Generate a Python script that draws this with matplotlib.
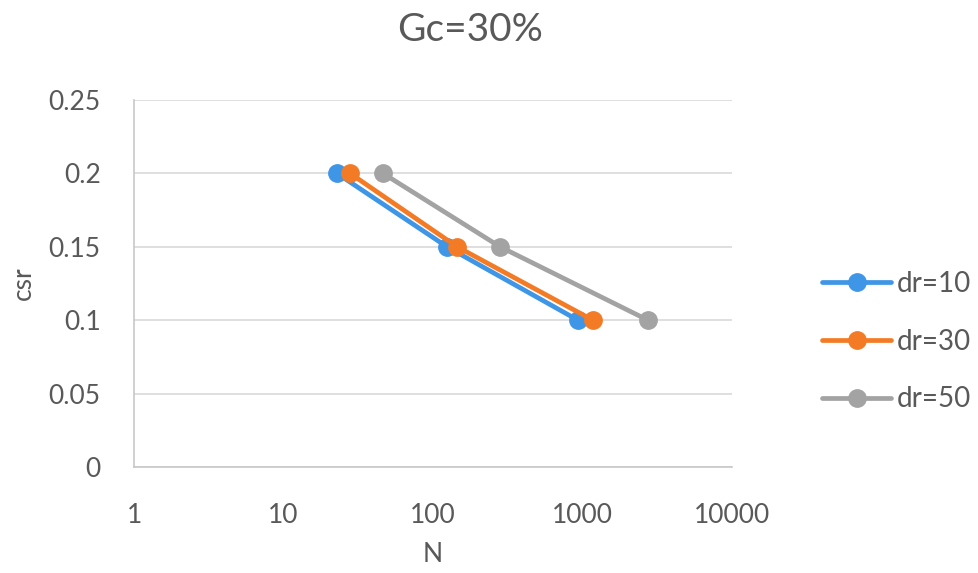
import matplotlib
matplotlib.use("Agg")
import matplotlib.pyplot as plt
from matplotlib.ticker import FixedLocator, FixedFormatter

plt.rcParams['font.family'] = ['Lato', 'DejaVu Sans']

# cyclic stress ratio levels and cycles to failure for each dr
csr = [0.2, 0.15, 0.1]
n_dr10 = [22.8, 124, 933]
n_dr30 = [27.9, 145, 1175]
n_dr50 = [46.3, 281, 2743]
series_labels = ['dr=10', 'dr=30', 'dr=50']
colors = ['#3f95e6', '#f47b25', '#a3a3a3']

x_ticks = [1, 10, 100, 1000, 10000]
y_ticks = [0, 0.05, 0.1, 0.15, 0.2, 0.25]
y_tick_labels = ['0', '0.05', '0.1', '0.15', '0.2', '0.25']

txt = '#595959'

fig = plt.figure(figsize=(9.79, 5.73), dpi=100)
ax = fig.add_axes([0.1369, 0.185, 0.6108, 0.6405])

for n, lab, c in zip([n_dr10, n_dr30, n_dr50], series_labels, colors):
    ax.plot(n, csr, color=c, lw=3.4, marker='o', ms=12.5, label=lab,
            solid_capstyle='round')

ax.set_xscale('log')
ax.set_xlim(1, 10000)
ax.set_ylim(0, 0.25)
ax.xaxis.set_major_locator(FixedLocator(x_ticks))
ax.xaxis.set_major_formatter(FixedFormatter([str(t) for t in x_ticks]))
ax.xaxis.set_minor_locator(FixedLocator([]))
ax.set_yticks(y_ticks)
ax.set_yticklabels(y_tick_labels)

ax.grid(axis='y', color='#d9d9d9', lw=1.2)
ax.set_axisbelow(True)
for s in ['top', 'right']:
    ax.spines[s].set_visible(False)
for s in ['left', 'bottom']:
    ax.spines[s].set_color('#c8c8c8')
    ax.spines[s].set_linewidth(1.2)
ax.tick_params(length=0, labelsize=19, labelcolor=txt)
ax.tick_params(axis='x', pad=26)
ax.tick_params(axis='y', pad=24)

ax.set_xlabel('N', fontsize=19, color=txt, labelpad=10)
ax.set_ylabel('csr', fontsize=19, color=txt, labelpad=9)
fig.text(0.48, 0.947, 'Gc=30%', ha='center', va='center',
         fontsize=28, color=txt)

fig.legend(loc='center left', bbox_to_anchor=(0.8396, 0.404), frameon=False,
           fontsize=20, labelcolor=txt, handlelength=2.5,
           labelspacing=1.15, handletextpad=0.2, borderpad=0,
           borderaxespad=0)

fig.savefig('out.png', dpi=100)
